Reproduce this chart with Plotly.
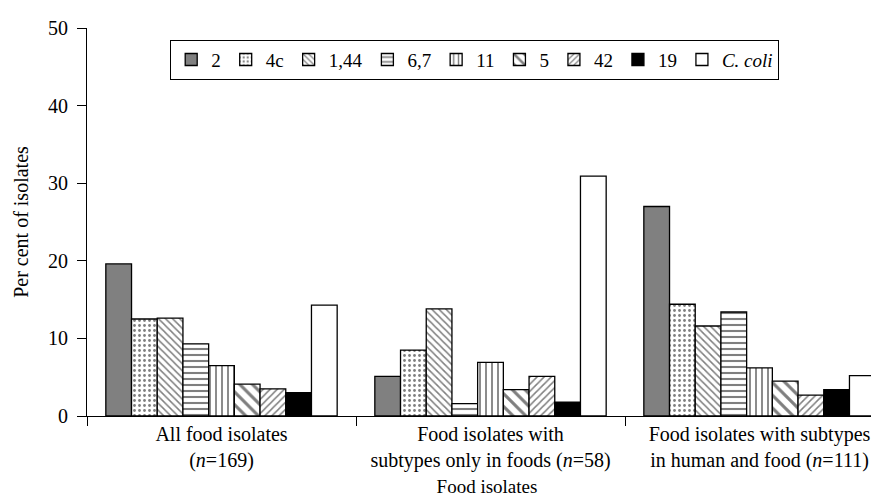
import plotly.graph_objects as go

categories = [
    "All food isolates<br>(<i>n</i>=169)",
    "Food isolates with<br>subtypes only in foods (<i>n</i>=58)",
    "Food isolates with subtypes<br>in human and food (<i>n</i>=111)",
]
series_names = ["2", "4c", "1,44", "6,7", "11", "5", "42", "19", "<i>C. coli</i>"]
v_2 = [19.6, 5.1, 27.0]
v_4c = [12.5, 8.5, 14.4]
v_1_44 = [12.6, 13.8, 11.6]
v_6_7 = [9.3, 1.6, 13.4]
v_11 = [6.5, 6.9, 6.2]
v_5 = [4.1, 3.4, 4.5]
v_42 = [3.5, 5.1, 2.7]
v_19 = [3.0, 1.8, 3.4]
v_ccoli = [14.3, 30.9, 5.2]
values = [v_2, v_4c, v_1_44, v_6_7, v_11, v_5, v_42, v_19, v_ccoli]

styles = [
    dict(color="#808080", pattern=dict(shape="")),
    dict(color="white", pattern=dict(shape=".", fgcolor="black", size=5, solidity=0.25)),
    dict(color="white", pattern=dict(shape="\\", fgcolor="black", size=5, solidity=0.3)),
    dict(color="white", pattern=dict(shape="-", fgcolor="black", size=6, solidity=0.35)),
    dict(color="white", pattern=dict(shape="|", fgcolor="black", size=6, solidity=0.3)),
    dict(color="white", pattern=dict(shape="\\", fgcolor="black", size=9, solidity=0.35)),
    dict(color="white", pattern=dict(shape="/", fgcolor="black", size=5, solidity=0.3)),
    dict(color="black", pattern=dict(shape="")),
    dict(color="white", pattern=dict(shape="")),
]

fig = go.Figure()
for name, vals, st in zip(series_names, values, styles):
    fig.add_trace(go.Bar(
        x=categories, y=vals, name=name,
        marker=dict(color=st["color"], pattern=st["pattern"],
                    line=dict(color="black", width=1.3)),
    ))

serif = "Liberation Serif, Times New Roman, DejaVu Serif, serif"

fig.update_layout(
    width=879, height=502,
    margin=dict(l=79, r=0, t=20, b=94),
    paper_bgcolor="white", plot_bgcolor="white",
    barmode="group", bargap=0.14, bargroupgap=0,
    font=dict(family=serif, color="black", size=20),
    showlegend=True,
    legend=dict(
        orientation="h", x=0.104, y=0.97, xanchor="left", yanchor="top",
        bordercolor="black", borderwidth=1, bgcolor="white",
        font=dict(family=serif, size=19), itemwidth=30, tracegroupgap=0,
    ),
    xaxis=dict(
        range=[-0.5, 2.474], showline=True, linecolor="black", linewidth=1,
        ticks="outside", tickson="boundaries", ticklen=9, tickcolor="black",
        title=dict(text="Food isolates", font=dict(family=serif, size=19), standoff=8),
        tickfont=dict(family=serif, size=20),
    ),
    yaxis=dict(
        range=[0, 50], dtick=10, showline=True, linecolor="black", linewidth=1,
        ticks="outside", ticklen=9, tickcolor="black", showgrid=False,
        zeroline=False, tickfont=dict(family=serif, size=20), ticklabelstandoff=5,
        title=dict(text="Per cent of isolates", font=dict(family=serif, size=20), standoff=14),
    ),
)

fig.write_html("out.html")
